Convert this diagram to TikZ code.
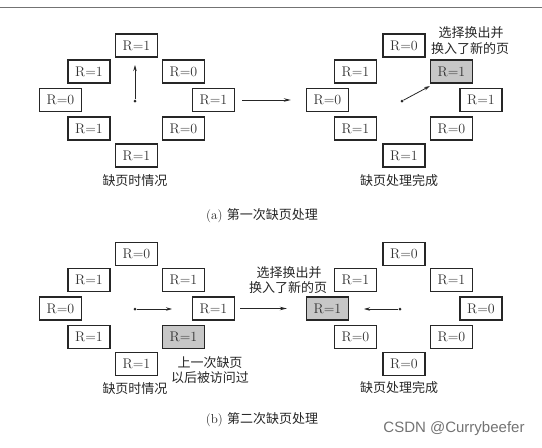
\documentclass[tikz,border=0pt]{standalone}
\usepackage{fontspec}
\newfontfamily\cjk{Noto Sans CJK SC}
\newfontfamily\wmfont{Liberation Sans}
\usetikzlibrary{arrows.meta}
\tikzset{
  pg/.style={draw=black!85, line width=1.3pt, minimum width=42pt, minimum height=23pt, inner sep=0pt, font=\fontsize{14}{16}\selectfont, text=black!80},
  pgsel/.style={pg, fill=black!22},
  lbl/.style={font=\cjk\fontsize{13}{15}\selectfont, text=black!85, inner sep=0pt},
  captxt/.style={font=\fontsize{13}{15}\selectfont, text=black!85, inner sep=0pt},
  ptr/.style={-{Stealth[length=6pt,width=3.5pt]}, line width=0.8pt, black!85},
  bigarr/.style={-{Stealth[length=7pt,width=3.5pt]}, line width=1pt, black!85},
  dotc/.style={circle, fill=black!85, inner sep=0pt, minimum size=3pt}
}
\begin{document}
\begin{tikzpicture}[x=1pt,y=-1pt]
\useasboundingbox (0,0) rectangle (542,448);
\draw[black!55, line width=1pt] (0,7) -- (542,7);
% ---------- (a) left clock ----------
\node[pg] (a1t)  at (136.5,45.5) {R=1};
\node[pg] (a1ul) at (89,71.5) {R=1};
\node[pg] (a1ur) at (183.5,71.5) {R=0};
\node[pg] (a1l)  at (60.5,100) {R=0};
\node[pg] (a1r)  at (213.5,100) {R=1};
\node[pg] (a1ll) at (89,128.5) {R=1};
\node[pg] (a1lr) at (183.5,128.5) {R=0};
\node[pg] (a1b)  at (136.5,155.5) {R=1};
\node[dotc] (a1c) at (135,101) {};
\coordinate (a1h) at (135,65);
\draw[ptr] (a1c) -- (a1h);
\node[lbl] (a1lab) at (135,181) {缺页时情况};
% ---------- (a) right clock ----------
\node[pg] (a2t)  at (404,45.5) {R=0};
\node[pg] (a2ul) at (355.5,71.5) {R=1};
\node[pgsel] (a2ur) at (451.5,71.5) {R=1};
\node[pg] (a2l)  at (327.5,100) {R=0};
\node[pg] (a2r)  at (481,100) {R=1};
\node[pg] (a2ll) at (355.5,128.5) {R=1};
\node[pg] (a2lr) at (451.5,128.5) {R=0};
\node[pg] (a2b)  at (404,155.5) {R=1};
\node[dotc] (a2c) at (402,101) {};
\coordinate (a2h) at (430,86);
\draw[ptr] (a2c) -- (a2h);
\node[lbl] (a2lab) at (399,181) {缺页处理完成};
\node[lbl] (a2n1) at (471,33) {选择换出并};
\node[lbl] (a2n2) at (470,49) {换入了新的页};
\draw[bigarr, shorten <=7pt, shorten >=15pt] (a1r.east) -- (a2l.west |- a1r.east);
\node[captxt] (capa) at (262,216) {(a) {\cjk 第一次缺页处理}};
% ---------- (b) left clock ----------
\node[pg] (b1t)  at (136.5,254) {R=0};
\node[pg] (b1ul) at (89,280) {R=1};
\node[pg] (b1ur) at (183.5,280) {R=1};
\node[pg] (b1l)  at (60.5,308.5) {R=0};
\node[pg] (b1r)  at (213.5,308.5) {R=1};
\node[pg] (b1ll) at (89,337) {R=1};
\node[pgsel] (b1lr) at (183.5,337) {R=1};
\node[pg] (b1b)  at (136.5,364) {R=1};
\node[dotc] (b1c) at (135,309) {};
\coordinate (b1h) at (172,309);
\draw[ptr] (b1c) -- (b1h);
\node[lbl] (b1lab) at (135,389) {缺页时情况};
\node[lbl] (b1n1) at (210,363) {上一次缺页};
\node[lbl] (b1n2) at (210,378) {以后被访问过};
% ---------- (b) right clock ----------
\node[pg] (b2t)  at (404,254) {R=0};
\node[pg] (b2ul) at (355.5,280) {R=1};
\node[pg] (b2ur) at (451.5,280) {R=1};
\node[pgsel] (b2l)  at (327.5,308.5) {R=1};
\node[pg] (b2r)  at (481,308.5) {R=0};
\node[pg] (b2ll) at (355.5,337) {R=0};
\node[pg] (b2lr) at (451.5,337) {R=0};
\node[pg] (b2b)  at (404,364) {R=0};
\node[dotc] (b2c) at (400,309) {};
\coordinate (b2h) at (364,309);
\draw[ptr] (b2c) -- (b2h);
\node[lbl] (b2lab) at (399,388) {缺页处理完成};
\node[lbl] (b2n1) at (289,273) {选择换出并};
\node[lbl] (b2n2) at (288,288) {换入了新的页};
\draw[bigarr, shorten <=5pt, shorten >=19pt] (b1r.east) -- (b2l.west);
\node[captxt] (capb) at (262,420) {(b) {\cjk 第二次缺页处理}};
\node[font=\wmfont\fontsize{15}{17}\selectfont, text=black!55, inner sep=0pt] (wm) at (454,429) {CSDN @Currybeefer};
\end{tikzpicture}
\end{document}
